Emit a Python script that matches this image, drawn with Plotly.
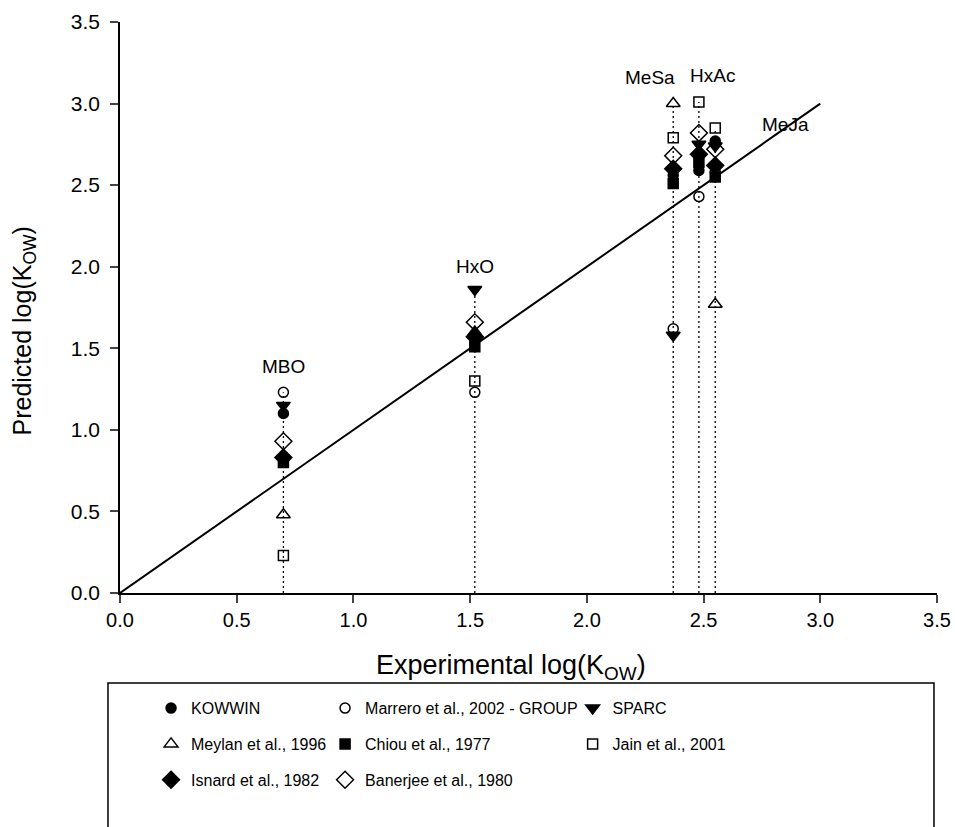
import plotly.graph_objects as go

# Compounds and their experimental log(Kow)
compounds = ["MBO", "HxO", "MeSa", "HxAc", "MeJa"]
experimental = [0.70, 1.52, 2.37, 2.48, 2.55]

# Predicted log(Kow) by method
kowwin = [1.10, 1.57, 2.56, 2.59, 2.77]
marrero = [1.23, 1.23, 1.62, 2.43, 2.58]
sparc = [1.15, 1.86, 1.58, 2.75, 2.74]
meylan = [0.48, 1.60, 3.00, 2.70, 1.77]
chiou = [0.80, 1.51, 2.51, 2.64, 2.55]
jain = [0.23, 1.30, 2.79, 3.01, 2.85]
isnard = [0.83, 1.57, 2.60, 2.69, 2.62]
banerjee = [0.93, 1.66, 2.68, 2.82, 2.72]

# Label positions (data coordinates) for compound names
label_x = [0.70, 1.52, 2.27, 2.54, 2.85]
label_y = [1.39, 2.00, 3.16, 3.17, 2.87]

# 1:1 reference line
ref_line = [0.0, 3.0]

FONT = "Arial, Liberation Sans, sans-serif"

fig = go.Figure()

# Dotted drop lines from the x axis up to the highest prediction of each compound
all_preds = [kowwin, marrero, sparc, meylan, chiou, jain, isnard, banerjee]
for i, xv in enumerate(experimental):
    top = max(p[i] for p in all_preds)
    fig.add_trace(go.Scatter(
        x=[xv, xv], y=[0, top], mode="lines",
        line=dict(color="black", width=1.3, dash="2px,3px"),
        showlegend=False, hoverinfo="skip"))

fig.add_trace(go.Scatter(
    x=ref_line, y=ref_line, mode="lines",
    line=dict(color="black", width=2), showlegend=False, hoverinfo="skip"))

series = [
    ("KOWWIN", kowwin, "circle", 10, "legend"),
    ("Marrero et al., 2002 - GROUP", marrero, "circle-open", 10, "legend2"),
    ("SPARC", sparc, "triangle-down", 12, "legend3"),
    ("Meylan et al., 1996", meylan, "triangle-up-open", 12, "legend"),
    ("Chiou et al., 1977", chiou, "square", 10, "legend2"),
    ("Jain et al., 2001", jain, "square-open", 10, "legend3"),
    ("Isnard et al., 1982", isnard, "diamond", 13, "legend"),
    ("Banerjee et al., 1980", banerjee, "diamond-open", 13, "legend2"),
]

for name, vals, sym, size, leg in series:
    fig.add_trace(go.Scatter(
        x=experimental, y=vals, mode="markers", name=name,
        marker=dict(symbol=sym, size=size, color="black",
                    line=dict(color="black", width=1.5)),
        legend=leg, legendgroup=name))

for name, lx, ly in zip(compounds, label_x, label_y):
    fig.add_annotation(x=lx, y=ly, text=name, showarrow=False,
                       font=dict(family=FONT, size=19, color="black"))

# Axis titles
fig.add_annotation(xref="paper", yref="paper", x=0.4786, y=-0.129,
                   xanchor="center", yanchor="middle", showarrow=False,
                   text="Experimental log(K<sub>OW</sub>)",
                   font=dict(family=FONT, size=27, color="black"))
fig.add_annotation(xref="paper", yref="paper", x=-0.118, y=0.459,
                   xanchor="center", yanchor="middle", showarrow=False,
                   textangle=-90, text="Predicted log(K<sub>OW</sub>)",
                   font=dict(family=FONT, size=25, color="black"))

# Frame around the legend area
fig.add_shape(type="rect", xref="paper", yref="paper",
              x0=-0.0147, x1=0.9963, y0=-0.42, y1=-0.1576,
              line=dict(color="black", width=1.5))

leg_common = dict(
    orientation="v", yanchor="top", xanchor="left",
    font=dict(family=FONT, size=16, color="black"),
    bgcolor="rgba(0,0,0,0)", tracegroupgap=12, itemwidth=30,
)

axis_common = dict(
    range=[0, 3.5], tickvals=[0, 0.5, 1, 1.5, 2, 2.5, 3, 3.5],
    tickformat=".1f", ticks="outside", ticklen=8, tickwidth=1.5,
    showline=True, linecolor="black", linewidth=1.5, showgrid=False,
    zeroline=False, automargin=False, ticklabeloverflow="allow",
)

fig.update_layout(
    width=955, height=827,
    margin=dict(l=120, r=18, t=22, b=234),
    paper_bgcolor="white", plot_bgcolor="white",
    font=dict(family=FONT, size=20, color="black"),
    xaxis=dict(**axis_common, tickfont=dict(family=FONT, size=20)),
    yaxis=dict(**axis_common, tickfont=dict(family=FONT, size=21),
               ticklabelstandoff=6),
    legend=dict(x=0.038, y=-0.172, **leg_common),
    legend2=dict(x=0.251, y=-0.172, **leg_common),
    legend3=dict(x=0.554, y=-0.172, **leg_common),
)

fig.write_html("out.html")
